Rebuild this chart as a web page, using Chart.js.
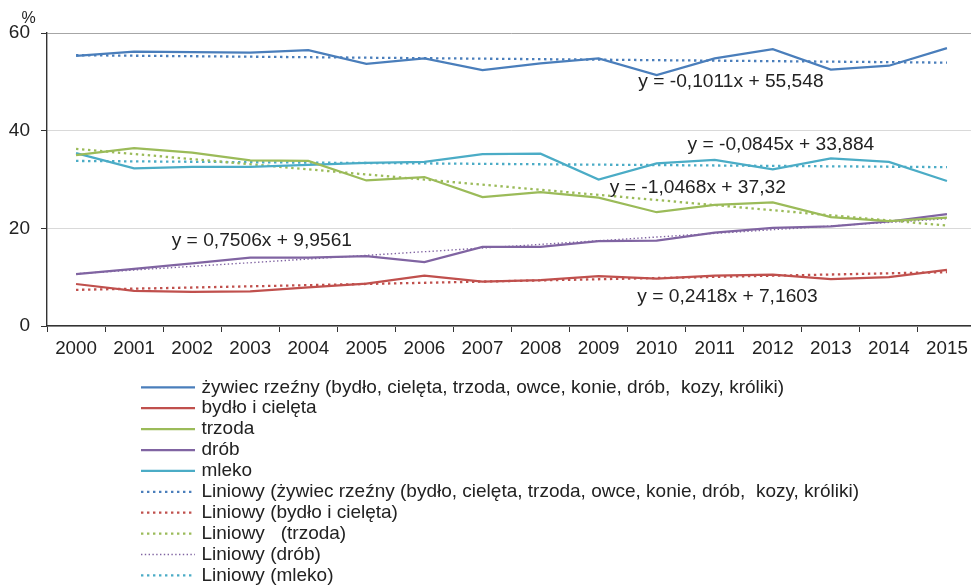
<!DOCTYPE html>
<html>
<head>
<meta charset="utf-8">
<script src="https://cdn.jsdelivr.net/npm/chart.js@4"></script>
<style>
  html, body { margin: 0; padding: 0; background: #fff; overflow: hidden; }
  #wrap { width: 990px; height: 585px; position: relative; }
</style>
</head>
<body>
<div id="wrap"><canvas id="chart"></canvas></div>
<script>
const years = ['2000', '2001', '2002', '2003', '2004', '2005', '2006', '2007',
  '2008', '2009', '2010', '2011', '2012', '2013', '2014', '2015']

const seriesNames = [
  'żywiec rzeźny (bydło, cielęta, trzoda, owce, konie, drób,  kozy, króliki)',
  'bydło i cielęta',
  'trzoda',
  'drób',
  'mleko'
]
const trendNames = [
  'Liniowy (żywiec rzeźny (bydło, cielęta, trzoda, owce, konie, drób,  kozy, króliki)',
  'Liniowy (bydło i cielęta)',
  'Liniowy   (trzoda)',
  'Liniowy (drób)',
  'Liniowy (mleko)'
]

const zywiec = [55.3, 56.2, 56.1, 56.0, 56.5, 53.7, 54.8, 52.4, 53.8, 54.8, 51.4, 54.8, 56.7, 52.5, 53.3, 56.9]
const bydlo = [8.6, 7.2, 7.0, 7.1, 7.9, 8.7, 10.3, 9.1, 9.4, 10.2, 9.7, 10.3, 10.5, 9.6, 10.0, 11.5]
const trzoda = [35.0, 36.4, 35.5, 33.9, 33.8, 29.8, 30.5, 26.4, 27.4, 26.3, 23.3, 24.8, 25.3, 22.3, 21.5, 22.2]
const drob = [10.6, 11.7, 12.8, 14.0, 14.0, 14.3, 13.1, 16.2, 16.2, 17.4, 17.5, 19.1, 20.1, 20.4, 21.4, 22.9]
const mleko = [35.4, 32.3, 32.6, 32.6, 33.0, 33.4, 33.6, 35.2, 35.3, 30.0, 33.3, 34.0, 32.1, 34.3, 33.6, 29.7]

// trend lines: value at 2000 and at 2015
const trendStart = [55.45, 7.40, 36.27, 10.71, 33.80]
const trendEnd = [53.93, 11.03, 20.57, 21.97, 32.53]
const equations = [
  'y = -0,1011x + 55,548',
  'y = 0,2418x + 7,1603',
  'y = -1,0468x + 37,32',
  'y = 0,7506x + 9,9561',
  'y = -0,0845x + 33,884'
]

const colors = ['#4a7ebb', '#c0504d', '#9bbb59', '#8064a2', '#4bacc6']
const FONT = '"Liberation Sans", Arial, sans-serif'
const TEXT = '#222'

const values = [zywiec, bydlo, trzoda, drob, mleko]

const datasets = values.map((v, i) => ({
  label: seriesNames[i],
  data: v,
  borderColor: colors[i],
  borderWidth: 2.25,
  pointRadius: 0,
  tension: 0
}))

trendStart.forEach((s, i) => {
  const thin = i === 3
  datasets.push({
    label: trendNames[i],
    data: years.map((_, j) => j === 0 ? s : j === years.length - 1 ? trendEnd[i] : null),
    spanGaps: true,
    borderColor: colors[i],
    borderWidth: thin ? 1.4 : 2.3,
    borderDash: thin ? [1.4, 2.4] : [2.4, 3.6],
    pointRadius: 0
  })
})

// where the equations sit, in (category index, value)
const eqPos = [[11.28, 50.07], [11.22, 5.95], [10.71, 28.36], [3.20, 17.38], [12.14, 37.08]]

const extras = {
  id: 'extras',
  afterDraw(chart) {
    const { ctx, scales: { x, y } } = chart
    ctx.save()
    ctx.fillStyle = TEXT
    ctx.font = `16px ${FONT}`
    ctx.textAlign = 'center'
    ctx.textBaseline = 'middle'
    ctx.fillText('%', 28.5, 18.5)

    ctx.font = `19.2px ${FONT}`
    equations.forEach((eq, i) => {
      ctx.fillText(eq, x.getPixelForValue(eqPos[i][0]), y.getPixelForValue(eqPos[i][1]))
    })

    // legend, one column
    ctx.textAlign = 'left'
    ctx.font = `19px ${FONT}`
    chart.data.datasets.forEach((ds, i) => {
      const yy = 387.3 + i * 20.9
      ctx.strokeStyle = ds.borderColor
      ctx.lineWidth = ds.borderWidth
      ctx.setLineDash(ds.borderDash || [])
      ctx.beginPath()
      ctx.moveTo(141, yy)
      ctx.lineTo(195, yy)
      ctx.stroke()
      ctx.fillStyle = TEXT
      ctx.fillText(ds.label, 201.5, yy)
    })
    ctx.restore()
  }
}

new Chart(document.getElementById('chart'), {
  type: 'line',
  data: { labels: years, datasets },
  plugins: [extras],
  options: {
    responsive: true,
    maintainAspectRatio: false,
    animation: false,
    layout: { padding: { left: 0, top: 33, right: 14, bottom: 229 } },
    plugins: {
      legend: { display: false },
      tooltip: { enabled: false }
    },
    scales: {
      x: {
        offset: true,
        afterFit: (scale) => { scale.height = 30 },
        grid: {
          offset: true,
          drawOnChartArea: false,
          tickLength: 6,
          color: '#333'
        },
        border: { color: '#333', width: 1.4 },
        ticks: {
          autoSkip: false,
          maxRotation: 0,
          padding: 6,
          color: TEXT,
          font: { family: FONT, size: 18.8 }
        }
      },
      y: {
        min: 0,
        max: 60,
        afterFit: (scale) => { scale.width = 47 },
        grid: {
          tickLength: 6,
          tickColor: '#333',
          color: (c) => c.tick.value === 60 ? '#a6a6a6' : '#d9d9d9'
        },
        border: { color: '#333', width: 1.4 },
        ticks: {
          stepSize: 20,
          padding: 11,
          color: TEXT,
          font: { family: FONT, size: 19 }
        }
      }
    }
  }
})
</script>
</body>
</html>
